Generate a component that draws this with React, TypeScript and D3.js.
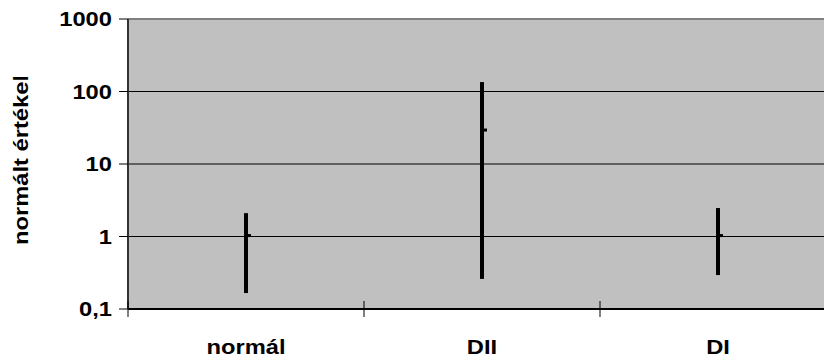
import React from "react";
import * as d3 from "d3";

const categories = ["normál", "DII", "DI"];
const highValues = [2.1, 135, 2.47];
const lowValues = [0.166, 0.26, 0.294];
const closeValues = [1.03, 29.4, 1.03];
const yTickValues = [0.1, 1, 10, 100, 1000];
const yTickLabels = ["0,1", "1", "10", "100", "1000"];
const yTitle = "normált értékek";

const W = 824;
const H = 360;
const left = 128;
const right = 836;
const top = 19;
const bottom = 309;
const FONT = "'Liberation Sans', Arial, sans-serif";
const SX = 1.13;
const FS = 21;

export default function App() {
  const x = d3.scaleBand<string>().domain(categories).range([left, right]);
  const y = d3.scaleLog().domain([0.1, 1000]).range([bottom, top]);
  const boundaries = d3.range(categories.length + 1).map((i) => left + i * x.bandwidth());

  return (
    <svg
      width={W}
      height={H}
      style={{ position: "absolute", left: 0, top: 0, display: "block", background: "#fff" }}
    >
      <defs>
        <clipPath id="titleClip">
          <rect x={0} y={77} width={60} height={H} />
        </clipPath>
      </defs>
      <rect x={left} y={top} width={right - left} height={bottom - top} fill="#C0C0C0" />
      {yTickValues.map((v, i) => (
        <line key={"g" + i} x1={left} x2={right} y1={y(v)} y2={y(v)} stroke="#000" strokeWidth={1} />
      ))}
      <line x1={left} x2={right} y1={top} y2={top} stroke="#808080" strokeWidth={2} />
      <line x1={left} x2={right} y1={bottom} y2={bottom} stroke="#000" strokeWidth={2} />
      <line x1={left} x2={left} y1={top} y2={bottom} stroke="#333" strokeWidth={2} />
      {yTickValues.map((v, i) => (
        <line key={"t" + i} x1={119} x2={left} y1={y(v)} y2={y(v)} stroke="#000" strokeWidth={1} />
      ))}
      {boundaries.map((b, i) => (
        <line key={"b" + i} x1={b} x2={b} y1={bottom - 8} y2={bottom + 8} stroke="#000" strokeWidth={1} />
      ))}
      {yTickValues.map((v, i) => (
        <text
          key={"l" + i}
          transform={`translate(112,${y(v)}) scale(${SX},1)`}
          textAnchor="end"
          dominantBaseline="central"
          fontFamily={FONT}
          fontWeight="bold"
          fontSize={FS}
          fill="#000"
        >
          {yTickLabels[i]}
        </text>
      ))}
      {categories.map((c) => (
        <text
          key={"c" + c}
          transform={`translate(${(x(c) as number) + x.bandwidth() / 2},354) scale(${SX},1)`}
          textAnchor="middle"
          fontFamily={FONT}
          fontWeight="bold"
          fontSize={FS}
          fill="#000"
        >
          {c}
        </text>
      ))}
      <g clipPath="url(#titleClip)">
        <text
          transform={`translate(28,245) rotate(-90) scale(${SX},1)`}
          textAnchor="start"
          fontFamily={FONT}
          fontWeight="bold"
          fontSize={FS}
          fill="#000"
        >
          {yTitle}
        </text>
      </g>
      {categories.map((c, i) => {
        const cx = (x(c) as number) + x.bandwidth() / 2;
        return (
          <g key={"s" + c}>
            <line x1={cx} x2={cx} y1={y(highValues[i])} y2={y(lowValues[i])} stroke="#000" strokeWidth={4} />
            <rect x={cx} y={y(closeValues[i]) - 1.5} width={5} height={3} fill="#000" />
          </g>
        );
      })}
    </svg>
  );
}
